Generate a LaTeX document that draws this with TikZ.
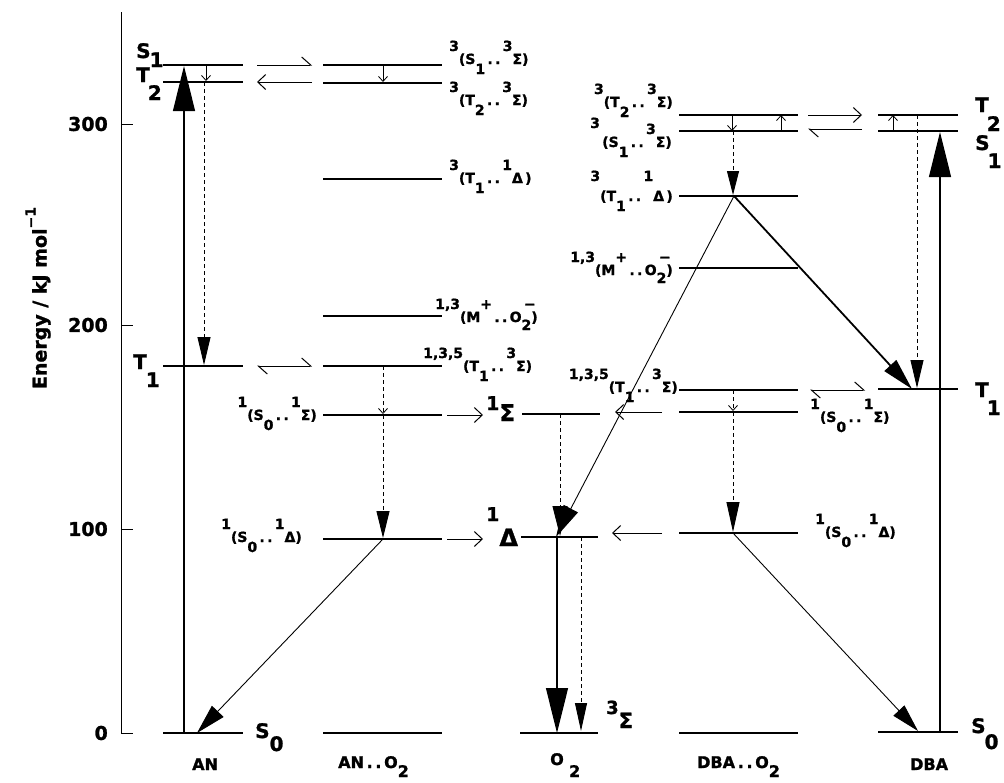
\documentclass[tikz,border=0pt]{standalone}
\usepackage{fontspec}
\setmainfont{DejaVu Sans}[BoldFeatures={FakeBold=1.2}]
\usetikzlibrary{arrows.meta}
\newcommand\Up[1]{\raisebox{13pt}{#1}}
\newcommand\Dn[1]{\raisebox{-10pt}{#1}}
\newcommand\Dd{\,.\,.\,}
\newcommand\OO{O\makebox[0pt][l]{\raisebox{13pt}{\,−}}\raisebox{-8pt}{2}}
\begin{document}
\begin{tikzpicture}[x=1pt,y=-1pt,
  lvl/.style={line width=2.1pt},
  cx/.style={font=\fontsize{14}{14}\selectfont\bfseries, inner sep=0pt},
  biglab/.style={font=\fontsize{20}{20}\selectfont\bfseries, inner sep=0pt},
  collab/.style={font=\fontsize{16}{16}\selectfont\bfseries, inner sep=0pt},
  ticklab/.style={font=\fontsize{19}{19}\selectfont\bfseries, inner sep=0pt, anchor=east},
  dsh/.style={dash pattern=on 4pt off 3pt, line width=0.9pt},
  solarr/.style={line width=1.2pt},
  tipL/.style={-{Triangle[length=45pt,width=22pt]}},
  tipM/.style={-{Triangle[length=28pt,width=13pt]}},
  smallarr/.style={-{Straight Barb[length=5pt,width=9pt]}, line width=0.8pt},
  openarr/.style={-{Straight Barb[length=8pt,width=15pt]}, line width=1pt},
  harpR/.style={-{Straight Barb[harpoon,length=9pt,width=16pt]}, line width=1pt},
  harpB/.style={{Straight Barb[harpoon,length=9pt,width=16pt]}-{Straight Barb[harpoon,length=9pt,width=16pt]}, line width=1pt},
]
\useasboundingbox (0,0) rectangle (1004,782);

% ---------- axis ----------
\coordinate (axT) at (121,12);
\coordinate (axB) at (121,733);
\draw[line width=1pt] (axT) -- (axB) -- (133,733);
\foreach \y/\t in {124/300,325/200,529/100,733/0}{
  \draw[line width=1pt] (121,\y) -- (133,\y);
  \node[ticklab] at (108,\y) {\t};
}
\node[font=\fontsize{19}{19}\selectfont\bfseries, rotate=90, inner sep=0pt] (elab) at (38,298)
  {Energy / kJ mol\raisebox{11pt}{\fontsize{14}{14}\selectfont −1}};

% ---------- levels ----------
\foreach \y in {65,82,366,733} \draw[lvl] (163,\y) -- (243,\y);
\foreach \y in {65,83,179,316,366,415,539,733} \draw[lvl] (323,\y) -- (442,\y);
\draw[lvl] (522,414) -- (600,414);
\draw[lvl] (521,537) -- (598,537);
\draw[lvl] (520,733) -- (598,733);
\foreach \y in {115,131,196,268,390,412,533,733} \draw[lvl] (679,\y) -- (798,\y);
\foreach \y in {115,131,389,732} \draw[lvl] (878,\y) -- (958,\y);

% ---------- coordinates ----------
\coordinate (anS0x) at (184,733); \coordinate (anS1x) at (184,66);
\coordinate (anT2d) at (204,82);  \coordinate (anT1d) at (204,365);
\coordinate (anS1s) at (206,65);  \coordinate (anT2s) at (206,81);
\coordinate (anS0d) at (197,733);
\coordinate (cS1) at (383,65);  \coordinate (cT2) at (383,82);
\coordinate (cT1) at (383,366); \coordinate (cSig) at (383,414);
\coordinate (cSig2) at (383,415); \coordinate (cDel) at (383,538);
\coordinate (cDel2) at (383,539);
\coordinate (oSig) at (560,414); \coordinate (oDel) at (560,536);
\coordinate (oDelA) at (557,537); \coordinate (oGnd) at (557,733);
\coordinate (oDelB) at (581,537); \coordinate (oGndB) at (581,731);
\coordinate (oDelC) at (556,537);
\coordinate (dT2a) at (732,115); \coordinate (dS1a) at (732,131);
\coordinate (dS1b) at (781,131); \coordinate (dT2b) at (781,115);
\coordinate (dS1c) at (733,131); \coordinate (dTD) at (733,195);
\coordinate (dApex) at (734,196);
\coordinate (dT1) at (733,390); \coordinate (dSig) at (733,411);
\coordinate (dSig2) at (733,412); \coordinate (dDel) at (733,532);
\coordinate (dDel2) at (733,533);
\coordinate (bS1s) at (893,131); \coordinate (bT2s) at (893,115);
\coordinate (bT2d) at (917,115); \coordinate (bT1d) at (917,388);
\coordinate (bT1x) at (912,389);
\coordinate (bS0x) at (940,732); \coordinate (bS1x) at (940,132);
\coordinate (bS0d) at (918,731);

% ---------- AN ----------
\draw[solarr,tipL] (anS0x) -- (anS1x);
\draw[dsh,tipM] (anT2d) -- (anT1d);
\draw[smallarr] (anS1s) -- (anT2s);
% ---------- AN..O2 ----------
\draw[smallarr] (cS1) -- (cT2);
\draw[dsh,smallarr] (cT1) -- (cSig);
\draw[dsh,-{Triangle[length=27pt,width=13pt]}] (cSig2) -- (cDel);
\draw[line width=0.9pt,-{Triangle[length=30pt,width=16pt]}] (cDel2) -- (anS0d);
% ---------- O2 ----------
\draw[dsh,-{Triangle[length=30pt,width=15pt]}] (oSig) -- (oDel);
\draw[solarr,tipL] (oDelA) -- (oGnd);
\draw[dsh,-{Triangle[length=28pt,width=12pt]}] (oDelB) -- (oGndB);
% ---------- DBA..O2 ----------
\draw[smallarr] (dT2a) -- (dS1a);
\draw[smallarr] (dS1b) -- (dT2b);
\draw[dsh,-{Triangle[length=24pt,width=12pt]}] (dS1c) -- (dTD);
\draw[line width=0.9pt,-{Triangle[length=32pt,width=16pt]}] (dApex) -- (oDelC);
\draw[line width=1.8pt,-{Triangle[length=32pt,width=16pt]}] (dApex) -- (bT1x);
\draw[dsh,smallarr] (dT1) -- (dSig);
\draw[dsh,-{Triangle[length=30pt,width=13pt]}] (dSig2) -- (dDel);
\draw[line width=0.9pt,-{Triangle[length=28pt,width=15pt]}] (dDel2) -- (bS0d);
% ---------- DBA ----------
\draw[smallarr] (bS1s) -- (bT2s);
\draw[dsh,tipM] (bT2d) -- (bT1d);
\draw[solarr,tipL] (bS0x) -- (bS1x);

% ---------- exchange arrows ----------
\coordinate (e1a) at (257,65);  \coordinate (e1b) at (312,65);
\coordinate (e2a) at (312,82);  \coordinate (e2b) at (257,82);
\coordinate (e3a) at (257,366); \coordinate (e3b) at (312,366);
\coordinate (e4a) at (447,415); \coordinate (e4b) at (483,415);
\coordinate (e5a) at (447,539); \coordinate (e5b) at (483,539);
\coordinate (e6a) at (662,412); \coordinate (e6b) at (615,412);
\coordinate (e7a) at (662,533); \coordinate (e7b) at (612,533);
\coordinate (e8a) at (810,390); \coordinate (e8b) at (865,390);
\coordinate (e9a) at (808,115); \coordinate (e9b) at (862,115);
\coordinate (e10a) at (862,129); \coordinate (e10b) at (808,129);
\draw[harpR] (e1a) -- (e1b);
\draw[openarr] (e2a) -- (e2b);
\draw[harpB] (e3a) -- (e3b);
\draw[openarr] (e4a) -- (e4b);
\draw[openarr] (e5a) -- (e5b);
\draw[openarr] (e6a) -- (e6b);
\draw[openarr] (e7a) -- (e7b);
\draw[harpB] (e8a) -- (e8b);
\draw[openarr] (e9a) -- (e9b);
\draw[harpR] (e10a) -- (e10b);

% ---------- complex labels ----------
\node[cx,anchor=base west] (l1) at (449,64) {\Up{3}(S\Dn{1}\Dd\Up{3}Σ)};
\node[cx,anchor=base west] (l2) at (449,105) {\Up{3}(T\Dn{2}\Dd\Up{3}Σ)};
\node[cx,anchor=base west] (l3) at (449,183) {\Up{3}(T\Dn{1}\Dd\Up{1}Δ\,)};
\node[cx,anchor=base west] (l4) at (435,322) {\Up{1,3}(M\Up{+}\Dd\OO)};
\node[cx,anchor=base west] (l5) at (423,371) {\Up{1,3,5}(T\Dn{1}\Dd\Up{3}Σ)};
\node[cx,anchor=base east] (l6) at (317,420) {\Up{1}(S\Dn{0}\Dd\Up{1}Σ)};
\node[cx,anchor=base east] (l7) at (302,542) {\Up{1}(S\Dn{0}\Dd\Up{1}Δ)};
\node[cx,anchor=base east] (l8) at (673,107) {\Up{3}(T\Dn{2}\Dd\Up{3}Σ)};
\node[cx,anchor=base east] (l9) at (672,147) {\raisebox{19pt}{3}\,(S\Dn{1}\Dd\Up{3}Σ)};
\node[cx,anchor=base east] (l10) at (673,201) {\raisebox{20pt}{3}(T\Dn{1}\Dd\raisebox{20pt}{1}Δ\,)};
\node[cx,anchor=base east] (l11) at (673,275) {\Up{1,3}(M\Up{+}\Dd\OO)};
\node[cx,anchor=base east] (l12) at (678,392) {\Up{1,3,5}(T\Dn{1}\Dd\Up{3}Σ)};
\node[cx,anchor=base west] (l13) at (810,422) {\Up{1}(S\Dn{0}\Dd\Up{1}Σ)};
\node[cx,anchor=base west] (l14) at (815,537) {\Up{1}(S\Dn{0}\Dd\Up{1}Δ)};

% ---------- state labels ----------
\node[biglab,anchor=base west] (s1a) at (136,58) {S\kern-1pt\raisebox{-9pt}{1}};
\node[biglab,anchor=base west] (t2a) at (136,82) {T\kern-2pt\raisebox{-18pt}{2}};
\node[biglab,anchor=base west] (t1a) at (133,369) {T\kern-1pt\raisebox{-18pt}{1}};
\node[biglab,anchor=base west] (s0a) at (255,738) {S\raisebox{-13pt}{0}};
\node[biglab,anchor=base west] (t2b) at (975,112) {T\kern-2pt\raisebox{-19pt}{2}};
\node[biglab,anchor=base west] (s1b) at (975,150) {S\kern-2pt\raisebox{-18pt}{1}};
\node[biglab,anchor=base west] (t1b) at (975,397) {T\kern-2pt\raisebox{-18pt}{1}};
\node[biglab,anchor=base west] (s0b) at (971,733) {S\kern-1pt\raisebox{-16pt}{0}};
\node[biglab,anchor=base west,font=\fontsize{23}{23}\selectfont\bfseries] (oS) at (486,421) {\raisebox{11pt}{\fontsize{19}{19}\selectfont 1}Σ};
\node[biglab,anchor=base west,font=\fontsize{24}{24}\selectfont\bfseries] (oD) at (486,546) {\raisebox{25pt}{\fontsize{19}{19}\selectfont 1}Δ};
\node[biglab,anchor=base west,font=\fontsize{21}{21}\selectfont\bfseries] (oG) at (606,728) {\raisebox{14pt}{\fontsize{18}{18}\selectfont 3}Σ};

% ---------- column labels ----------
\node[collab,anchor=base west] (cAN) at (192,770) {AN};
\node[collab,anchor=base west] (cANO) at (338,768) {AN\Dd O\raisebox{-9pt}{2}};
\node[collab,anchor=base west] (cO2) at (550,765) {O\,\,\raisebox{-12pt}{2}};
\node[collab,anchor=base west] (cDO) at (697,768) {DBA\Dd O\raisebox{-9pt}{2}};
\node[collab,anchor=base west] (cDBA) at (910,770) {DBA};
\end{tikzpicture}
\end{document}
